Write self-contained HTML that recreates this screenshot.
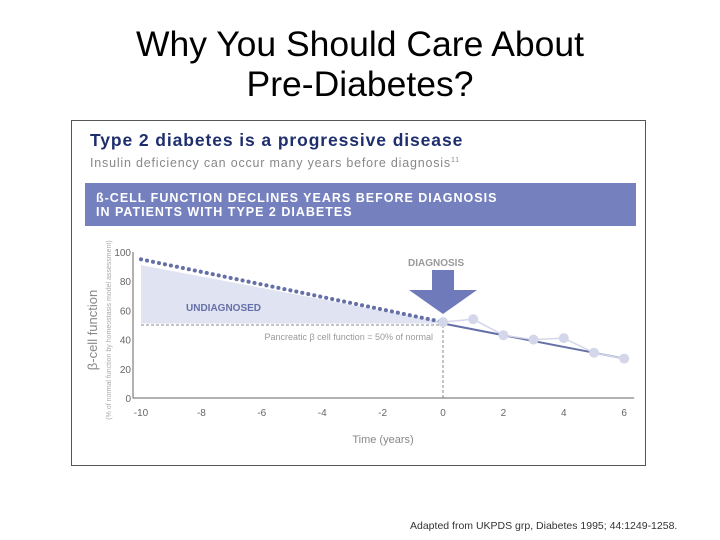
<!DOCTYPE html>
<html><head><meta charset="utf-8"><style>
body{margin:0;width:720px;height:540px;background:#fff;position:relative;overflow:hidden;font-family:"Liberation Sans",sans-serif}
.t{position:absolute;left:0;width:720px;text-align:center;font-family:"Liberation Sans",sans-serif;font-size:35.5px;color:#000;line-height:40px}
</style></head><body>
<div class="t" style="top:24px">Why You Should Care About<br>Pre-Diabetes?</div>
<div style="position:absolute;left:71px;top:120px;width:575px;height:346px;border:1px solid #555;box-sizing:border-box"></div>
<div style="position:absolute;left:90px;top:130px;font-weight:900;font-size:17.5px;letter-spacing:0.9px;color:#1f2f6e;white-space:nowrap">Type 2 diabetes is a progressive disease</div>
<div style="position:absolute;left:90px;top:156px;font-size:12.5px;letter-spacing:0.8px;color:#888;white-space:nowrap">Insulin deficiency can occur many years before diagnosis<sup style="font-size:7px">11</sup></div>
<div style="position:absolute;left:85px;top:183px;width:551px;height:43px;background:#7580be;color:#fff;font-weight:bold;font-size:12.5px;letter-spacing:1px;line-height:14px;box-sizing:border-box;padding:8px 0 0 11px;white-space:nowrap">ß-CELL FUNCTION DECLINES YEARS BEFORE DIAGNOSIS<br>IN PATIENTS WITH TYPE 2 DIABETES</div>
<svg width="720" height="540" style="position:absolute;left:0;top:0" id="svg"></svg>
<div style="position:absolute;left:410px;top:520px;font-size:10.5px;letter-spacing:0px;color:#333;white-space:nowrap">Adapted from UKPDS grp, Diabetes 1995; 44:1249-1258.</div>
<script>
const xTicks=[-10,-8,-6,-4,-2,0,2,4,6];
const xTickLabels=["-10","-8","-6","-4","-2","0","2","4","6"];
const yTicks=[0,20,40,60,80,100];
const obsYears=[0,1,2,3,4,5,6];
const obsValues=[52,54,43,40,41,31,27];
const preYears=[-10,0];
const preValues=[95,52];
const fillValues=[91,52];
const trendYears=[0,6];
const trendValues=[51,27];
const thresholdValue=50;
const NS="http://www.w3.org/2000/svg",svg=document.getElementById('svg');
const X=v=>443+(v)*30.2, Y=v=>398-v*1.46;
function mk(t,a,txt){const e=document.createElementNS(NS,t);for(const k in a)e.setAttribute(k,a[k]);if(txt!=null)e.textContent=txt;svg.appendChild(e);return e;}
let e;
e=mk('polygon',{points:`${X(preYears[0])},${Y(fillValues[0])} ${X(preYears[1])},${Y(fillValues[1])} ${X(preYears[1])},${Y(thresholdValue+1)} ${X(preYears[0])},${Y(thresholdValue+1)}`,fill:'#e0e3f2'});


e=mk('line',{x1:X(-10),y1:Y(thresholdValue),x2:X(0),y2:Y(thresholdValue),stroke:'#888','stroke-dasharray':'3,2','stroke-width':1});


e=mk('line',{x1:X(0),y1:Y(thresholdValue),x2:X(0),y2:Y(0),stroke:'#888','stroke-dasharray':'3,2','stroke-width':1});


e=mk('polyline',{points:`${X(-10)-8},${Y(100)} ${X(-10)-8},${Y(0)} ${X(6)+10},${Y(0)}`,fill:'none',stroke:'#666','stroke-width':1});


xTicks.forEach((v,i)=>{e=mk('text',{x:X(v),y:416,'text-anchor':'middle','font-size':10,fill:'#666'},xTickLabels[i]);

});
yTicks.forEach(v=>{e=mk('text',{x:X(-10)-10,y:Y(v)+4,'text-anchor':'end','font-size':10,fill:'#666'},String(v));

});
e=mk('line',{x1:X(preYears[0]),y1:Y(preValues[0]),x2:X(preYears[1]),y2:Y(preValues[1]),stroke:'#6670a8','stroke-width':4,'stroke-dasharray':'0.1,6','stroke-linecap':'round'});


e=mk('line',{x1:X(trendYears[0]),y1:Y(trendValues[0]),x2:X(trendYears[1]),y2:Y(trendValues[1]),stroke:'#6670a8','stroke-width':2});


e=mk('polyline',{points:obsYears.map((v,i)=>X(v)+','+Y(obsValues[i])).join(' '),fill:'none',stroke:'#d4d7ea','stroke-width':1.5});


obsYears.forEach((v,i)=>{e=mk('circle',{cx:X(v),cy:Y(obsValues[i]),r:5,fill:'#d4d7ea'});

});
e=mk('polygon',{points:`${X(0)-11},270 ${X(0)+11},270 ${X(0)+11},290 ${X(0)+34},290 ${X(0)},314 ${X(0)-34},290 ${X(0)-11},290`,fill:'#6f7abb'});


e=mk('text',{x:408,y:266,'font-size':10,'font-weight':'bold',fill:'#999'},'DIAGNOSIS');


e=mk('text',{x:186,y:311,'font-size':10,'font-weight':'bold',fill:'#6670a8'},'UNDIAGNOSED');


e=mk('text',{x:433,y:340,'text-anchor':'end','font-size':9,fill:'#999'},'Pancreatic β cell function = 50% of normal');


e=mk('text',{x:383,y:443,'text-anchor':'middle','font-size':11,fill:'#888'},'Time (years)');


e=mk('text',{x:97,y:330,'text-anchor':'middle','font-size':13,fill:'#888',transform:'rotate(-90 97 330)'},'β-cell function');


e=mk('text',{x:111,y:330,'text-anchor':'middle','font-size':7,fill:'#aaa',transform:'rotate(-90 111 330)'},'(% of normal function by homeostasis model assessment)');


</script>
</body></html>
